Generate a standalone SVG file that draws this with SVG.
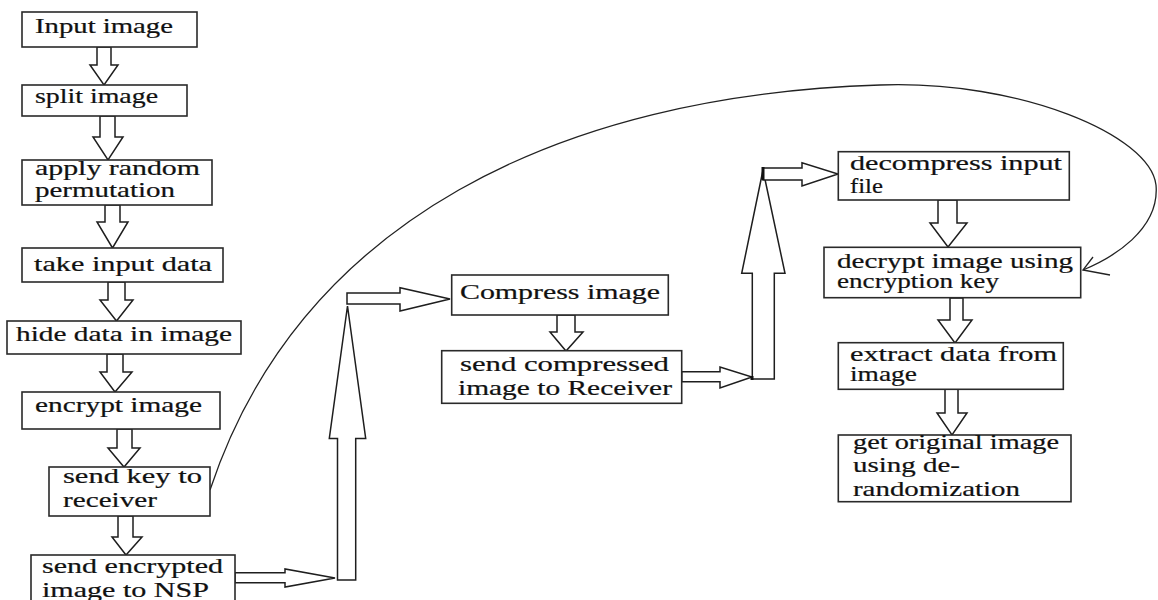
<svg xmlns="http://www.w3.org/2000/svg" width="1158" height="600" viewBox="0 0 1158 600">
<style>
.box{fill:#fff;stroke:#2a2a2a;stroke-width:1.6}
.t{font-family:'Liberation Serif','Times New Roman',serif;font-size:20px;fill:#111;stroke:#111;stroke-width:0.2}
.ba{fill:#fff;stroke:#1e1e1e;stroke-width:1.5;stroke-linejoin:miter}
.curve{fill:none;stroke:#222;stroke-width:1.3}
</style>
<rect width="1158" height="600" fill="#fff"/>
<g id="connectors">
<polygon class="ba" points="97,47 111,47 111,65 118,65 104,85 90,65 97,65"/>
<polygon class="ba" points="100,116 115,116 115,137 123,137 108,160 93,137 100,137"/>
<polygon class="ba" points="105,205 120,205 120,222 128,222 112.5,248 97,222 105,222"/>
<polygon class="ba" points="108,282 125,282 125,300 133,300 116.5,321 100,300 108,300"/>
<polygon class="ba" points="107,354 123,354 123,372 132,372 115,392 100,372 107,372"/>
<polygon class="ba" points="117,429 132,429 132,448 140,448 124,467 108,448 117,448"/>
<polygon class="ba" points="118,516 133,516 133,537 142,537 126,555 112,537 118,537"/>
<polygon class="ba" points="557,315 575,315 575,332 583,332 566,351 550,332 557,332"/>
<polygon class="ba" points="938,200 957,200 957,223 967,223 948,247 930,223 938,223"/>
<polygon class="ba" points="950,298 963,298 963,320 972,320 955,343 938,320 950,320"/>
<polygon class="ba" points="945,389 958,389 958,413 967,413 952,435 937,413 945,413"/>
<polygon class="ba" points="235,572.7 285,572.7 285,569 335,578 285,587 285,582.7 235,582.7"/>
<polygon class="ba" points="337.5,580 355.7,580 355.7,438.5 365.7,438.5 347.5,306 329.3,438.5 337.5,438.5"/>
<polygon class="ba" points="347,293 400,293 400,287.7 450,299 400,311 400,304 347,304"/>
<polygon class="ba" points="681.7,371.7 720,371.7 720,367 752,377 720,388 720,381.7 681.7,381.7"/>
<polygon class="ba" points="752.3,379 774.3,379 774.3,273.3 785,273.3 763,170 741.7,273.3 752.3,273.3"/>
<polygon class="ba" points="763,168 802,168 802,162.7 838,174 802,186 802,180 763,180"/>
<rect x="761.5" y="167" width="3" height="13" fill="#111"/>
<rect x="750.5" y="376" width="3" height="4" fill="#111"/>
<path class="curve" d="M210,490 C300,220 560,95 880,85 C1020,80 1150,135 1156,185 C1160,230 1112,258 1083,270"/>
<path class="curve" d="M1093,257 L1083,270 L1110,275"/>
</g>
<g id="n1"><rect class="box" x="22" y="12" width="175" height="35"/><text class="t" transform="scale(1.45,1)" x="24.14" y="33.5" textLength="95.17" lengthAdjust="spacingAndGlyphs">Input image</text></g>
<g id="n2"><rect class="box" x="22" y="85" width="165" height="31"/><text class="t" transform="scale(1.45,1)" x="24.14" y="103" textLength="84.83" lengthAdjust="spacingAndGlyphs">split image</text></g>
<g id="n3"><rect class="box" x="22" y="160" width="190" height="45"/><text class="t" transform="scale(1.45,1)" x="24.14" y="175" textLength="113.79" lengthAdjust="spacingAndGlyphs">apply random</text><text class="t" transform="scale(1.45,1)" x="24.14" y="197" textLength="96.55" lengthAdjust="spacingAndGlyphs">permutation</text></g>
<g id="n4"><rect class="box" x="22" y="248" width="201" height="34"/><text class="t" transform="scale(1.45,1)" x="23.45" y="271" textLength="122.76" lengthAdjust="spacingAndGlyphs">take input data</text></g>
<g id="n5"><rect class="box" x="7" y="321" width="234" height="33"/><text class="t" transform="scale(1.45,1)" x="11.03" y="341.5" textLength="148.97" lengthAdjust="spacingAndGlyphs">hide data in image</text></g>
<g id="n6"><rect class="box" x="22" y="392" width="198" height="37"/><text class="t" transform="scale(1.45,1)" x="24.14" y="412.5" textLength="115.17" lengthAdjust="spacingAndGlyphs">encrypt image</text></g>
<g id="n7"><rect class="box" x="49" y="467" width="161" height="49"/><text class="t" transform="scale(1.45,1)" x="43.45" y="483" textLength="95.86" lengthAdjust="spacingAndGlyphs">send key to</text><text class="t" transform="scale(1.45,1)" x="43.45" y="507.5" textLength="64.83" lengthAdjust="spacingAndGlyphs">receiver</text></g>
<g id="n8"><rect class="box" x="31" y="555" width="204" height="48"/><text class="t" transform="scale(1.45,1)" x="28.97" y="573" textLength="124.83" lengthAdjust="spacingAndGlyphs">send encrypted</text><text class="t" transform="scale(1.45,1)" x="28.97" y="597" textLength="115.17" lengthAdjust="spacingAndGlyphs">image to NSP</text></g>
<g id="n9"><rect class="box" x="451.7" y="275" width="216.6" height="40"/><text class="t" transform="scale(1.45,1)" x="317.24" y="299.5" textLength="137.93" lengthAdjust="spacingAndGlyphs">Compress image</text></g>
<g id="n10"><rect class="box" x="441.7" y="350.7" width="240" height="52.6"/><text class="t" transform="scale(1.45,1)" x="317.24" y="371.5" textLength="144.14" lengthAdjust="spacingAndGlyphs">send compressed</text><text class="t" transform="scale(1.45,1)" x="315.86" y="395" textLength="147.59" lengthAdjust="spacingAndGlyphs">image to Receiver</text></g>
<g id="n11"><rect class="box" x="838.3" y="151.7" width="231" height="48.3"/><text class="t" transform="scale(1.45,1)" x="586.21" y="170.5" textLength="146.21" lengthAdjust="spacingAndGlyphs">decompress input</text><text class="t" transform="scale(1.45,1)" x="586.21" y="193" textLength="22.76" lengthAdjust="spacingAndGlyphs">file</text></g>
<g id="n12"><rect class="box" x="824" y="247.3" width="256.7" height="50.4"/><text class="t" transform="scale(1.45,1)" x="577.24" y="268.5" textLength="162.76" lengthAdjust="spacingAndGlyphs">decrypt image using</text><text class="t" transform="scale(1.45,1)" x="577.24" y="288.5" textLength="111.72" lengthAdjust="spacingAndGlyphs">encryption key</text></g>
<g id="n13"><rect class="box" x="838.3" y="342.7" width="225" height="46.6"/><text class="t" transform="scale(1.45,1)" x="586.21" y="361.5" textLength="142.76" lengthAdjust="spacingAndGlyphs">extract data from</text><text class="t" transform="scale(1.45,1)" x="586.21" y="381.5" textLength="46.21" lengthAdjust="spacingAndGlyphs">image</text></g>
<g id="n14"><rect class="box" x="838.3" y="435" width="232.7" height="66.7"/><text class="t" transform="scale(1.45,1)" x="588.28" y="449" textLength="142.07" lengthAdjust="spacingAndGlyphs">get original image</text><text class="t" transform="scale(1.45,1)" x="588.28" y="472.5" textLength="73.79" lengthAdjust="spacingAndGlyphs">using de-</text><text class="t" transform="scale(1.45,1)" x="588.28" y="496" textLength="115.17" lengthAdjust="spacingAndGlyphs">randomization</text></g>
</svg>
